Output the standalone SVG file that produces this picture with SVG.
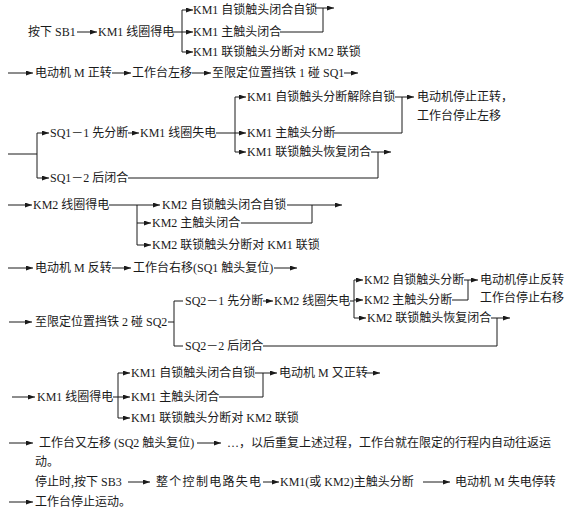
<svg xmlns="http://www.w3.org/2000/svg" width="570" height="513" viewBox="0 0 570 513">
<defs>
<marker id="ah" markerWidth="7" markerHeight="5" refX="7" refY="2.5" orient="auto" markerUnits="userSpaceOnUse"><path d="M0,0 L7,2.5 L0,5 z" fill="#1a1a1a"/></marker>
<style>
text{font-family:"Liberation Serif","Noto Sans CJK SC",serif;font-size:12px;fill:#1a1a1a}
.c line,.c polyline{stroke:#1a1a1a;stroke-width:1;fill:none}
.a{marker-end:url(#ah)}
</style>
</defs>
<rect width="570" height="513" fill="#fff"/>
<g id="nodes">
<g id="n-sb1"><text x="28" y="36">按下 SB1</text></g>
<g id="n-km1-on"><text x="98" y="36">KM1 线圈得电</text></g>
<g id="n-km1-self"><text x="193" y="14">KM1 自锁触头闭合自锁</text></g>
<g id="n-km1-main"><text x="193" y="36">KM1 主触头闭合</text></g>
<g id="n-km1-lock"><text x="193" y="56">KM1 联锁触头分断对 KM2 联锁</text></g>
<g id="n-motor-fwd"><text x="35" y="77">电动机 M 正转</text></g>
<g id="n-left"><text x="132" y="77">工作台左移</text></g>
<g id="n-sq1"><text x="212" y="77">至限定位置挡铁 1 碰 SQ1</text></g>
<g id="n-sq1-1"><text x="50" y="137">SQ1－1 先分断</text></g>
<g id="n-sq1-2"><text x="50" y="182">SQ1－2 后闭合</text></g>
<g id="n-km1-off"><text x="140" y="137">KM1 线圈失电</text></g>
<g id="n-km1-self-off"><text x="247" y="101">KM1 自锁触头分断解除自锁</text></g>
<g id="n-km1-main-off"><text x="247" y="137">KM1 主触头分断</text></g>
<g id="n-km1-lock-off"><text x="247" y="156">KM1 联锁触头恢复闭合</text></g>
<g id="n-stop-fwd"><text x="417" y="101">电动机停止正转，</text><text x="417" y="120">工作台停止左移</text></g>
<g id="n-km2-on"><text x="33" y="209">KM2 线圈得电</text></g>
<g id="n-km2-self"><text x="162" y="209">KM2 自锁触头闭合自锁</text></g>
<g id="n-km2-main"><text x="152" y="227">KM2 主触头闭合</text></g>
<g id="n-km2-lock"><text x="152" y="249">KM2 联锁触头分断对 KM1 联锁</text></g>
<g id="n-motor-rev"><text x="35" y="272">电动机 M 反转</text></g>
<g id="n-right"><text x="133" y="272">工作台右移(SQ1 触头复位)</text></g>
<g id="n-sq2"><text x="35" y="326">至限定位置挡铁 2 碰 SQ2</text></g>
<g id="n-sq2-1"><text x="185" y="305">SQ2－1 先分断</text></g>
<g id="n-sq2-2"><text x="185" y="350">SQ2－2 后闭合</text></g>
<g id="n-km2-off"><text x="274" y="305">KM2 线圈失电</text></g>
<g id="n-km2-self-off"><text x="364" y="284">KM2 自锁触头分断</text></g>
<g id="n-km2-main-off"><text x="364" y="304">KM2 主触头分断</text></g>
<g id="n-km2-lock-off"><text x="367" y="322">KM2 联锁触头恢复闭合</text></g>
<g id="n-stop-rev"><text x="480" y="284">电动机停止反转</text><text x="480" y="302">工作台停止右移</text></g>
<g id="n-km1-on2"><text x="37" y="401">KM1 线圈得电</text></g>
<g id="n-km1-self2"><text x="131" y="377">KM1 自锁触头闭合自锁</text></g>
<g id="n-km1-main2"><text x="131" y="401">KM1 主触头闭合</text></g>
<g id="n-km1-lock2"><text x="131" y="422">KM1 联锁触头分断对 KM2 联锁</text></g>
<g id="n-motor-fwd2"><text x="279" y="377">电动机 M 又正转</text></g>
<g id="n-left2"><text x="39" y="447">工作台又左移 (SQ2 触头复位)</text></g>
<g id="n-repeat"><text x="227" y="447">…，以后重复上述过程，工作台就在限定的行程内自动往返运</text><text x="35" y="466">动。</text></g>
<g id="n-sb3"><text x="35" y="486">停止时,按下 SB3</text></g>
<g id="n-ctrl-off"><text x="156" y="486" letter-spacing="1.3">整个控制电路失电</text></g>
<g id="n-main-off"><text x="280" y="486">KM1(或 KM2)主触头分断</text></g>
<g id="n-motor-off"><text x="455" y="486">电动机 M 失电停转</text></g>
<g id="n-stop-all"><text x="35" y="506">工作台停止运动。</text></g>
</g>
<g id="connectors" class="c">
<!-- row A -->
<line class="a" x1="77" y1="32" x2="97" y2="32"/>
<line x1="172" y1="32" x2="182" y2="32"/>
<line x1="182" y1="10" x2="182" y2="52"/>
<line class="a" x1="182" y1="10" x2="193" y2="10"/>
<line class="a" x1="182" y1="32" x2="193" y2="32"/>
<line class="a" x1="182" y1="52" x2="193" y2="52"/>
<line x1="315" y1="8" x2="323" y2="8"/>
<line x1="323" y1="8" x2="323" y2="32"/>
<line x1="280" y1="32" x2="323" y2="32"/>
<line class="a" x1="323" y1="8" x2="334" y2="8"/>
<!-- row B -->
<line class="a" x1="8" y1="73" x2="33" y2="73"/>
<line class="a" x1="112" y1="73" x2="131" y2="73"/>
<line class="a" x1="192" y1="73" x2="211" y2="73"/>
<line class="a" x1="344" y1="73" x2="358" y2="73"/>
<!-- row C -->
<line x1="8" y1="154" x2="37" y2="154"/>
<line x1="37" y1="133" x2="37" y2="178"/>
<line class="a" x1="37" y1="133" x2="49" y2="133"/>
<line class="a" x1="37" y1="178" x2="49" y2="178"/>
<line class="a" x1="128" y1="133" x2="139" y2="133"/>
<line x1="216" y1="133" x2="235" y2="133"/>
<line x1="235" y1="97" x2="235" y2="152"/>
<line class="a" x1="235" y1="97" x2="246" y2="97"/>
<line class="a" x1="235" y1="133" x2="246" y2="133"/>
<line class="a" x1="235" y1="152" x2="246" y2="152"/>
<line x1="395" y1="97" x2="402" y2="97"/>
<line x1="402" y1="97" x2="402" y2="133"/>
<line x1="334" y1="133" x2="402" y2="133"/>
<line class="a" x1="402" y1="97" x2="414" y2="97"/>
<line x1="371" y1="152" x2="378" y2="152"/>
<line x1="378" y1="152" x2="378" y2="178"/>
<line x1="128" y1="178" x2="378" y2="178"/>
<line class="a" x1="378" y1="152" x2="391" y2="152"/>
<!-- row D -->
<line class="a" x1="8" y1="205" x2="32" y2="205"/>
<line class="a" x1="109" y1="205" x2="160" y2="205"/>
<line x1="137" y1="205" x2="137" y2="245"/>
<line class="a" x1="137" y1="223" x2="151" y2="223"/>
<line class="a" x1="137" y1="245" x2="151" y2="245"/>
<line class="a" x1="287" y1="205" x2="342" y2="205"/>
<line x1="312" y1="205" x2="312" y2="223"/>
<line x1="241" y1="223" x2="312" y2="223"/>
<!-- row E -->
<line class="a" x1="8" y1="268" x2="33" y2="268"/>
<line class="a" x1="112" y1="268" x2="131" y2="268"/>
<line class="a" x1="274" y1="268" x2="297" y2="268"/>
<!-- row F -->
<line class="a" x1="9" y1="322" x2="32" y2="322"/>
<line x1="168" y1="322" x2="174" y2="322"/>
<line x1="174" y1="301" x2="174" y2="346"/>
<line x1="174" y1="301" x2="183" y2="301"/>
<line x1="174" y1="346" x2="183" y2="346"/>
<line class="a" x1="263" y1="301" x2="273" y2="301"/>
<line x1="350" y1="301" x2="354" y2="301"/>
<line x1="354" y1="280" x2="354" y2="318"/>
<line class="a" x1="354" y1="280" x2="363" y2="280"/>
<line class="a" x1="354" y1="300" x2="363" y2="300"/>
<line class="a" x1="354" y1="318" x2="366" y2="318"/>
<line x1="464" y1="280" x2="468" y2="280"/>
<line x1="468" y1="280" x2="468" y2="300"/>
<line x1="452" y1="300" x2="468" y2="300"/>
<line class="a" x1="468" y1="280" x2="478" y2="280"/>
<line x1="491" y1="318" x2="497" y2="318"/>
<line x1="497" y1="318" x2="497" y2="346"/>
<line x1="263" y1="346" x2="497" y2="346"/>
<line class="a" x1="497" y1="318" x2="510" y2="318"/>
<!-- row G -->
<line class="a" x1="12" y1="397" x2="35" y2="397"/>
<line x1="113" y1="397" x2="118" y2="397"/>
<line x1="118" y1="373" x2="118" y2="418"/>
<line class="a" x1="118" y1="373" x2="130" y2="373"/>
<line class="a" x1="118" y1="397" x2="130" y2="397"/>
<line class="a" x1="118" y1="418" x2="130" y2="418"/>
<line x1="255" y1="373" x2="263" y2="373"/>
<line x1="263" y1="373" x2="263" y2="397"/>
<line x1="219" y1="397" x2="263" y2="397"/>
<line class="a" x1="263" y1="373" x2="277" y2="373"/>
<line class="a" x1="365" y1="373" x2="380" y2="373"/>
<!-- row H -->
<line class="a" x1="9" y1="443" x2="33" y2="443"/>
<line class="a" x1="197" y1="443" x2="221" y2="443"/>
<line class="a" x1="128" y1="482" x2="150" y2="482"/>
<line class="a" x1="263" y1="482" x2="279" y2="482"/>
<line class="a" x1="423" y1="482" x2="450" y2="482"/>
<line class="a" x1="9" y1="502" x2="33" y2="502"/>
</g>
</svg>
